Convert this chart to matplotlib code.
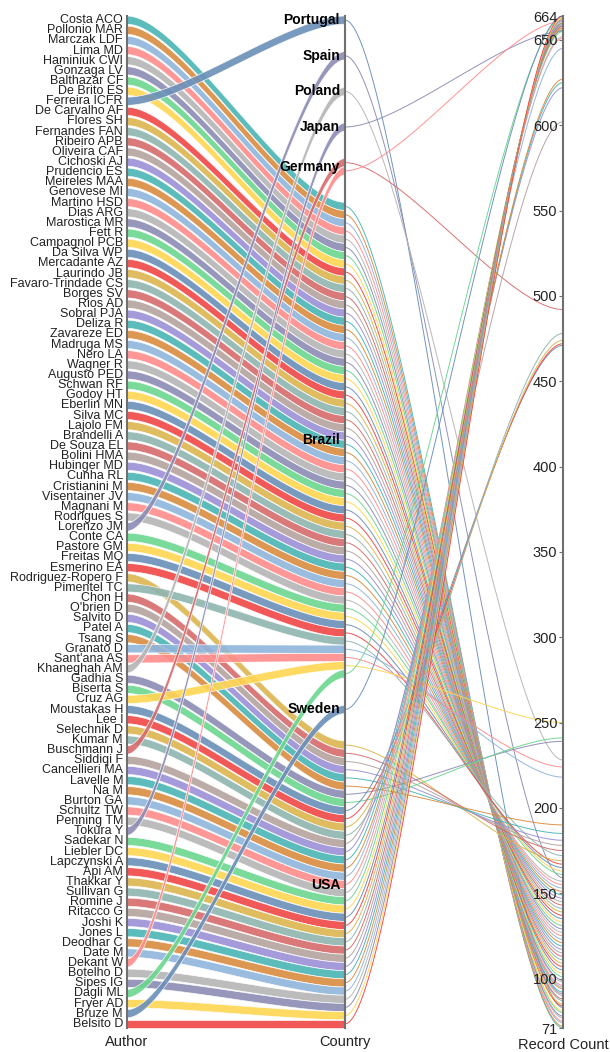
import numpy as np
import matplotlib.pyplot as plt

plt.rcParams['font.family'] = ['Liberation Sans', 'DejaVu Sans']

# authors, top to bottom on the first axis
authors = [
    'Costa ACO', 'Pollonio MAR', 'Marczak LDF', 'Lima MD', 'Haminiuk CWI',
    'Gonzaga LV', 'Balthazar CF', 'De Brito ES', 'Ferreira ICFR', 'De Carvalho AF',
    'Flores SH', 'Fernandes FAN', 'Ribeiro APB', 'Oliveira CAF', 'Cichoski AJ',
    'Prudencio ES', 'Meireles MAA', 'Genovese MI', 'Martino HSD', 'Dias ARG',
    'Marostica MR', 'Fett R', 'Campagnol PCB', 'Da Silva WP', 'Mercadante AZ',
    'Laurindo JB', 'Favaro-Trindade CS', 'Borges SV', 'Rios AD', 'Sobral PJA',
    'Deliza R', 'Zavareze ED', 'Madruga MS', 'Nero LA', 'Wagner R',
    'Augusto PED', 'Schwan RF', 'Godoy HT', 'Eberlin MN', 'Silva MC',
    'Lajolo FM', 'Brandelli A', 'De Souza EL', 'Bolini HMA', 'Hubinger MD',
    'Cunha RL', 'Cristianini M', 'Visentainer JV', 'Magnani M', 'Rodrigues S',
    'Lorenzo JM', 'Conte CA', 'Pastore GM', 'Freitas MQ', 'Esmerino EA',
    'Rodriguez-Ropero F', 'Pimentel TC', 'Chon H', "O'brien D", 'Salvito D',
    'Patel A', 'Tsang S', 'Granato D', "Sant'ana AS", 'Khaneghah AM',
    'Gadhia S', 'Biserta S', 'Cruz AG', 'Moustakas H', 'Lee I',
    'Selechnik D', 'Kumar M', 'Buschmann J', 'Siddiqi F', 'Cancellieri MA',
    'Lavelle M', 'Na M', 'Burton GA', 'Schultz TW', 'Penning TM',
    'Tokura Y', 'Sadekar N', 'Liebler DC', 'Lapczynski A', 'Api AM',
    'Thakkar Y', 'Sullivan G', 'Romine J', 'Ritacco G', 'Joshi K',
    'Jones L', 'Deodhar C', 'Date M', 'Dekant W', 'Botelho D',
    'Sipes IG', 'Dagli ML', 'Fryer AD', 'Bruze M', 'Belsito D',
]

# country of each author (same order)
author_country = (
    ['Brazil'] * 8 + ['Portugal'] + ['Brazil'] * 41 + ['Spain'] + ['Brazil'] * 4
    + ['USA', 'Brazil'] + ['USA'] * 5 + ['Brazil', 'Brazil', 'Poland', 'USA', 'USA', 'Brazil']
    + ['USA'] * 4 + ['Germany'] + ['USA'] * 7 + ['Japan'] + ['USA'] * 12
    + ['Germany', 'USA', 'USA', 'Brazil', 'USA', 'Sweden', 'USA']
)

# records per author
record_count = [
    71, 72, 74, 75, 77, 78, 80, 81, 83, 84,
    85, 87, 88, 90, 91, 92, 94, 95, 96, 98,
    99, 101, 103, 105, 107, 109, 111, 113, 115, 117,
    119, 121, 123, 125, 127, 129, 131, 133, 135, 137,
    139, 141, 143, 145, 147, 149, 151, 153, 155, 157,
    159, 161, 163, 165, 167, 169, 172, 175, 178, 181,
    185, 190, 218, 224, 228, 239, 241, 250, 471, 472,
    474, 478, 492, 602, 622, 625, 627, 645, 651, 652,
    655, 655, 656, 656, 657, 657, 658, 658, 659, 659,
    660, 660, 661, 661, 662, 662, 663, 663, 664, 664,
]

countries = ['Portugal', 'Spain', 'Poland', 'Japan', 'Germany', 'Brazil', 'Sweden', 'USA']
count_ticks = [71, 100, 150, 200, 250, 300, 350, 400, 450, 500, 550, 600, 650, 664]

palette = ['#4ab5b5', '#d98c40', '#8fb5db', '#ff8c8c', '#b5b5b5',
           '#8c8cb5', '#6bd68f', '#ffd652', '#6b8fb8', '#f04747',
           '#dbb54d', '#8fb5b0', '#d66b6b', '#b5a39e', '#9b8fd6']

W, H = 610, 1052
top, bottom = 16, 1028
x_author, x_country, x_count = 127, 345, 563
gap_total = 192
n = len(authors)
band_h = (bottom - top - gap_total) / n


def bezier(x0, y0, x1, y1, k=0.25, npts=80):
    t = np.linspace(0, 1, npts)
    dx = x1 - x0
    xs = ((1 - t) ** 3 * x0 + 3 * (1 - t) ** 2 * t * (x0 + k * dx)
          + 3 * (1 - t) * t ** 2 * (x1 - k * dx) + t ** 3 * x1)
    ys = (1 - t) ** 3 * y0 + 3 * (1 - t) ** 2 * t * y0 + 3 * (1 - t) * t ** 2 * y1 + t ** 3 * y1
    return xs, ys


fig = plt.figure(figsize=(W / 100, H / 100), dpi=100)
ax = fig.add_axes([0, 0, 1, 1])
ax.set_xlim(0, W)
ax.set_ylim(H, 0)
ax.axis('off')

# numeric axis for the record counts
rc_ax = fig.add_axes([x_count / W, 1 - bottom / H, 0.0001, (bottom - top) / H])
rc_ax.set_ylim(min(count_ticks), max(count_ticks))
rc_ax.patch.set_visible(False)
for s in ['top', 'right', 'bottom']:
    rc_ax.spines[s].set_visible(False)
rc_ax.spines['left'].set_color('#707070')
rc_ax.spines['left'].set_linewidth(1.5)
rc_ax.set_xticks([])
rc_ax.set_yticks(count_ticks)
rc_ax.tick_params(axis='y', direction='out', length=3, color='#707070',
                  labelsize=10.5, pad=1, labelcolor='#222222')

# positions on the author axis
author_gap = gap_total / (n - 1)
y_author = [top + i * (band_h + author_gap) for i in range(n)]

# positions on the country axis (stacked by author order)
country_gap = gap_total / (len(countries) - 1)
y_country = [0.0] * n
country_mid = {}
cursor = top
for c in countries:
    start = cursor
    for i in range(n):
        if author_country[i] == c:
            y_country[i] = cursor
            cursor += band_h
    country_mid[c] = (start + cursor) / 2
    cursor += country_gap

# bands author -> country
for i in range(n):
    col = palette[i % len(palette)]
    xs, y1 = bezier(x_author, y_author[i], x_country, y_country[i])
    _, y2 = bezier(x_author, y_author[i] + band_h, x_country, y_country[i] + band_h)
    ax.fill(np.concatenate([xs, xs[::-1]]), np.concatenate([y1, y2[::-1]]),
            facecolor=col, edgecolor='white', linewidth=0.5, alpha=0.9, zorder=2)

# lines country -> record count
to_main = ax.transData.inverted()
for i in range(n):
    col = palette[i % len(palette)]
    yv = to_main.transform(rc_ax.transData.transform((0, record_count[i])))[1]
    xs, ys = bezier(x_country, y_country[i] + band_h / 2, x_count, yv)
    ax.plot(xs, ys, color=col, linewidth=0.7, alpha=0.95, zorder=3)

# axis lines
for xa in (x_author, x_country):
    ax.plot([xa, xa], [top, bottom], color='#707070', linewidth=1.5, zorder=4)

# labels
for i in range(n):
    ax.text(x_author - 4, y_author[i] + band_h / 2, authors[i], ha='right', va='center',
            fontsize=9, color='#222222', zorder=5)
for c in countries:
    ax.text(x_country - 5, country_mid[c], c, ha='right', va='center',
            fontsize=10, fontweight='bold', color='black', zorder=5)

ax.text(x_author, 1042, 'Author', ha='center', va='center', fontsize=10.5, color='#222222')
ax.text(x_country, 1042, 'Country', ha='center', va='center', fontsize=10.5, color='#222222')
ax.text(x_count, 1045, 'Record Count', ha='center', va='center', fontsize=10.5, color='#222222')

fig.savefig('out.png', dpi=100)
